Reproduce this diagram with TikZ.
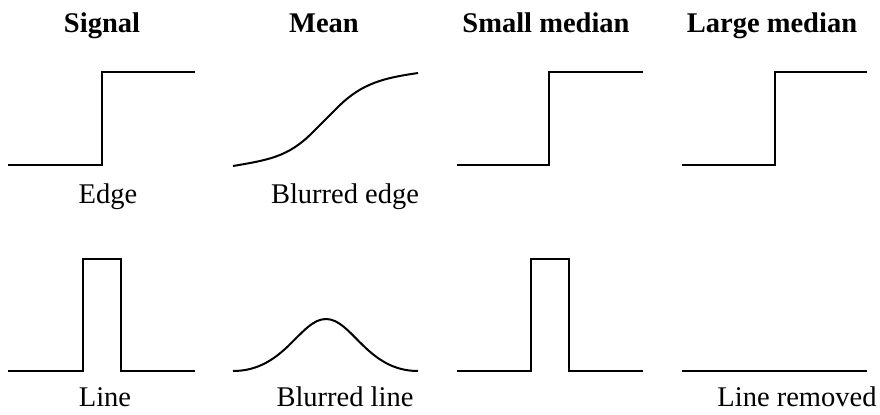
\documentclass[tikz,border=0pt]{standalone}
\usepackage{fontspec}
\setmainfont{Liberation Serif}
\usepackage{tikz}

\begin{document}
\begin{tikzpicture}[
  x=0.5pt, y=-0.5pt,
  head/.style={anchor=base, inner sep=0pt, font=\fontsize{14.25}{17}\selectfont\bfseries},
  caption/.style={anchor=base, inner sep=0pt, font=\fontsize{14.25}{17}\selectfont},
  signal/.style={line width=1pt, line join=miter}
]
\useasboundingbox (0,0) rectangle (880,414);

% Column headers
\node[head] (hsignal) at (102,32) {Signal};
\node[head] (hmean)   at (324,32) {Mean};
\node[head] (hsmall)  at (546,32) {Small median};
\node[head] (hlarge)  at (772,32) {Large median};

% Edge row
\draw[signal] (8,165) -- (102,165) -- (102,72) -- (195,72);
\draw[signal] (233,166) .. controls (268,160) and (288,157) .. (312,133)
  -- (338,107) .. controls (362,83) and (384,78) .. (418,73);
\draw[signal] (457,165) -- (549,165) -- (549,72) -- (643,72);
\draw[signal] (682,165) -- (775,165) -- (775,72) -- (867,72);

\node[caption] (cedge)    at (108,203) {Edge};
\node[caption] (cblurred) at (345,203) {Blurred edge};

% Line row
\draw[signal] (8,371) -- (83,371) -- (83,259) -- (121,259) -- (121,371) -- (195,371);
\draw[signal] (233,371) .. controls (285,371) and (300,319) .. (326,319)
  .. controls (352,319) and (367,371) .. (418,371);
\draw[signal] (457,371) -- (531,371) -- (531,259) -- (569,259) -- (569,371) -- (643,371);
\draw[signal] (682,371) -- (867,371);

\node[caption] (cline)    at (105,406) {Line};
\node[caption] (cblurline) at (345,406) {Blurred line};
\node[caption] (cremoved) at (797,406) {Line removed};
\end{tikzpicture}
\end{document}
